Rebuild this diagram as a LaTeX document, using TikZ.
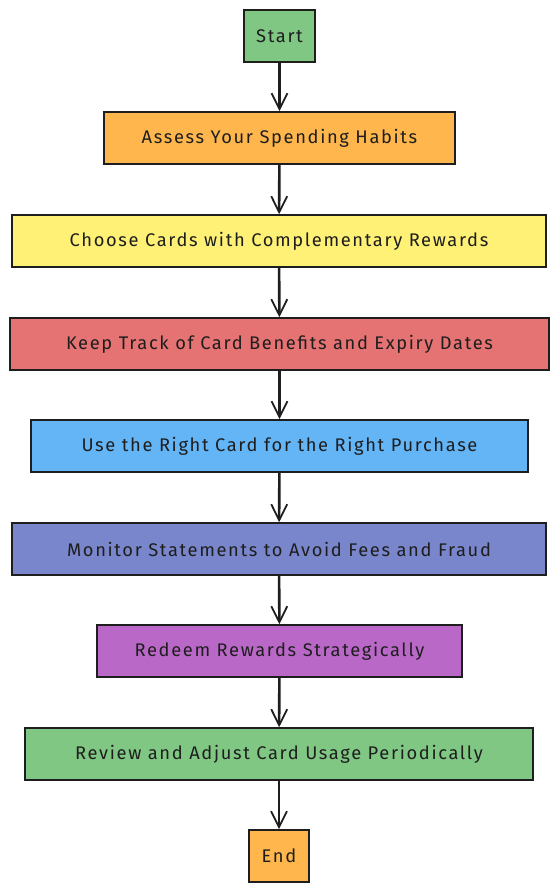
\documentclass[tikz,border=0pt]{standalone}
\usepackage{fontspec}
\setmainfont[LetterSpace=9]{Fira Sans}
\usetikzlibrary{arrows.meta}
\definecolor{cstart}{HTML}{81C784}
\definecolor{corange}{HTML}{FFB74D}
\definecolor{cyellow}{HTML}{FFF176}
\definecolor{cred}{HTML}{E57373}
\definecolor{cblue}{HTML}{64B5F6}
\definecolor{cindigo}{HTML}{7986CB}
\definecolor{cpurple}{HTML}{BA68C8}
\definecolor{cgreen}{HTML}{81C784}
\definecolor{ink}{HTML}{1E1E1E}
\tikzset{
  stepbox/.style={draw=ink, line width=1.6pt, rectangle, minimum height=52pt, inner sep=0pt,
    font=\fontsize{18.3}{20}\selectfont, text=ink},
  flow/.style={draw=ink, line width=2.6pt, -{Straight Barb[length=16pt,width=16pt,line width=1.8pt]}}
}
\begin{document}
\begin{tikzpicture}[x=1pt,y=-1pt]
\useasboundingbox (0,0) rectangle (559,893);
\node[stepbox, fill=cstart, minimum width=71pt] (start) at (279.5,36) {Start};
\node[stepbox, fill=corange, minimum width=351pt] (assess) at (279.5,138) {Assess Your Spending Habits};
\node[stepbox, fill=cyellow, minimum width=534pt] (choose) at (279,241) {Choose Cards with Complementary Rewards};
\node[stepbox, fill=cred, minimum width=539pt] (keep) at (279.5,344) {Keep Track of Card Benefits and Expiry Dates};
\node[stepbox, fill=cblue, minimum width=497pt] (use) at (279.5,446) {Use the Right Card for the Right Purchase};
\node[stepbox, fill=cindigo, minimum width=534pt] (monitor) at (279,549) {Monitor Statements to Avoid Fees and Fraud};
\node[stepbox, fill=cpurple, minimum width=365pt] (redeem) at (279.5,651) {Redeem Rewards Strategically};
\node[stepbox, fill=cgreen, minimum width=508pt] (review) at (279,754) {Review and Adjust Card Usage Periodically};
\node[stepbox, fill=corange, minimum width=60pt] (end) at (279,856) {End};
\draw[flow] (start) -- (assess);
\draw[flow] (assess) -- (choose);
\draw[flow] (choose) -- (keep);
\draw[flow] (keep) -- (use);
\draw[flow] (use) -- (monitor);
\draw[flow] (monitor) -- (redeem);
\draw[flow] (redeem) -- (review);
\draw[flow] (review) -- (end);
\end{tikzpicture}
\end{document}
